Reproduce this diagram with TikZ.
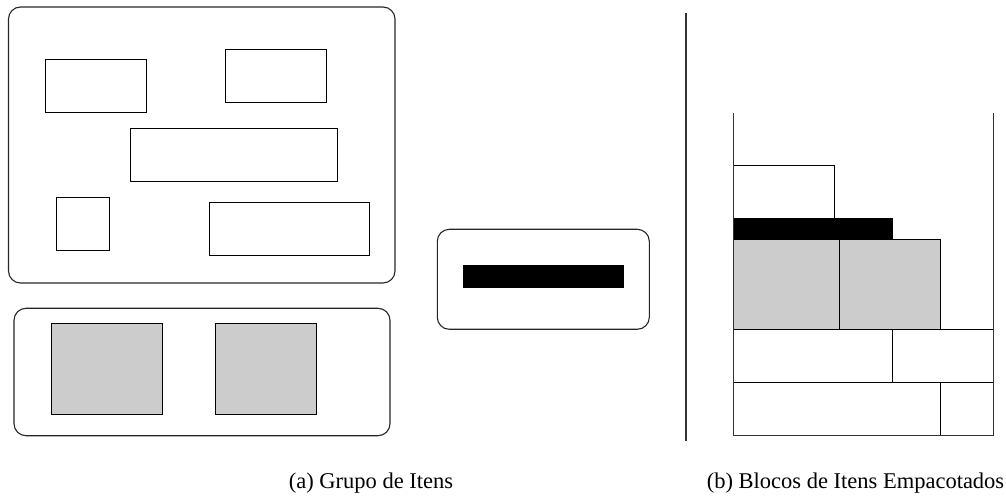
\documentclass[tikz,border=0pt]{standalone}
\usepackage{fontspec}
\setmainfont{Liberation Serif}
\definecolor{itemgray}{HTML}{CCCCCC}
\tikzset{
  item/.style={draw=black, line width=0.5pt},
  grayitem/.style={item, fill=itemgray},
  blackitem/.style={draw=black, fill=black, line width=0.5pt},
  group/.style={draw=black!85, line width=0.55pt, rounded corners=6pt},
  wall/.style={draw=black!80, line width=0.55pt},
  caption/.style={anchor=base, inner sep=0pt, font=\fontsize{11.25pt}{13pt}\selectfont}
}
\begin{document}
\begin{tikzpicture}[x=0.5pt, y=-0.5pt]
\useasboundingbox (0,0) rectangle (1006,496);

% --- (a) item groups ---
% group of plain items
\draw[group] (8.5,7) rectangle (395,283);
\draw[item] (45.7,60) rectangle (146.7,113);
\draw[item] (225.7,49.3) rectangle (326.7,102.3);
\draw[item] (130.3,128.3) rectangle (337.3,181.7);
\draw[item] (56.3,197.3) rectangle (109.7,250.3);
\draw[item] (209.7,202.7) rectangle (369,256);

% group of gray items
\draw[group] (14,308.3) rectangle (390,435.7);
\draw[grayitem] (51,324) rectangle (162.7,414.7);
\draw[grayitem] (215.3,324) rectangle (316,414.7);

% group with the black item
\draw[group] (437.3,229.3) rectangle (649.3,329.3);
\draw[blackitem] (463.3,266) rectangle (623.3,288);

% separator
\draw[wall] (686,12.7) -- (686,440.7);

% --- (b) packed blocks ---
\draw[item] (733.7,330) rectangle (892.7,383);
\draw[item] (892.7,330) rectangle (993.3,383);
\draw[item] (733.7,383) rectangle (940.3,435.7);
\draw[item] (940.3,383) rectangle (993.3,435.7);
\draw[grayitem] (733.7,240) rectangle (839.7,330);
\draw[grayitem] (839.7,240) rectangle (940.3,330);
\draw[blackitem] (733.7,218.3) rectangle (892.7,240);
\draw[item] (733.7,165.3) rectangle (834.3,218.3);

% container walls
\draw[wall] (733.7,113.3) -- (733.7,435.7) -- (993.3,435.7) -- (993.3,113.3);

% captions
\node[caption] (capa) at (371,488) {(a) Grupo de Itens};
\node[caption] (capb) at (855.5,488) {(b) Blocos de Itens Empacotados};
\end{tikzpicture}
\end{document}
